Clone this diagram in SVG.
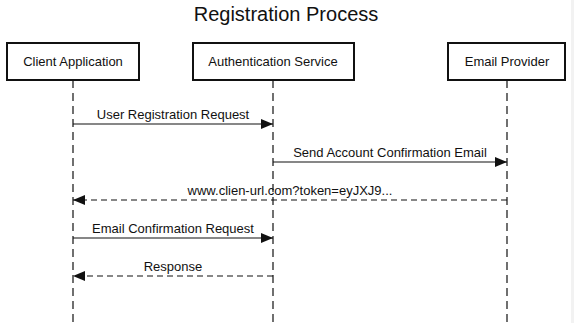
<svg xmlns="http://www.w3.org/2000/svg" width="574" height="323" viewBox="0 0 574 323">
  <style>
    text { font-family: "Liberation Sans", Arial, sans-serif; fill: #111; }
    .title { font-size: 20px; text-anchor: middle; }
    .actor rect { fill: #fff; stroke: #111; stroke-width: 2; }
    .actor text { font-size: 13px; text-anchor: middle; }
    .life { stroke: #111; stroke-width: 1.2; stroke-dasharray: 8 5; fill: none; }
    .msg { stroke: #111; stroke-width: 1.2; fill: none; }
    .ret { stroke-dasharray: 6 4; }
    .lbl { font-size: 13px; text-anchor: middle; }
  </style>
  <defs>
    <marker id="arrow" viewBox="0 0 12 10" refX="12" refY="5" markerWidth="12" markerHeight="10" markerUnits="userSpaceOnUse" orient="auto">
      <path d="M0,0 L12,5 L0,10 Z" fill="#111"/>
    </marker>
  </defs>
  <rect width="574" height="323" fill="#fff"/>
  <rect x="571" y="0" width="3" height="323" fill="#f2f2f2"/>

  <text class="title" x="286" y="21">Registration Process</text>

  <g id="lifelines">
    <line class="life" x1="73" y1="80" x2="73" y2="323"/>
    <line class="life" x1="273" y1="80" x2="273" y2="323"/>
    <line class="life" x1="507" y1="80" x2="507" y2="323"/>
  </g>

  <g id="client" class="actor">
    <rect x="7" y="43" width="132" height="37"/>
    <text x="73" y="66">Client Application</text>
  </g>
  <g id="auth" class="actor">
    <rect x="193" y="43" width="161" height="37"/>
    <text x="273" y="66">Authentication Service</text>
  </g>
  <g id="email" class="actor">
    <rect x="448" y="43" width="117" height="37"/>
    <text x="507" y="66">Email Provider</text>
  </g>

  <g id="connectors">
    <line class="msg" x1="73" y1="124" x2="273" y2="124" marker-end="url(#arrow)"/>
    <text class="lbl" x="173" y="119">User Registration Request</text>

    <line class="msg" x1="273" y1="162" x2="507" y2="162" marker-end="url(#arrow)"/>
    <text class="lbl" x="390" y="157">Send Account Confirmation Email</text>

    <line class="msg ret" x1="507" y1="200" x2="73" y2="200" marker-end="url(#arrow)"/>
    <text class="lbl" x="290" y="195">www.clien-url.com?token=eyJXJ9...</text>

    <line class="msg" x1="73" y1="238" x2="273" y2="238" marker-end="url(#arrow)"/>
    <text class="lbl" x="173" y="233">Email Confirmation Request</text>

    <line class="msg ret" x1="273" y1="276" x2="73" y2="276" marker-end="url(#arrow)"/>
    <text class="lbl" x="173" y="271">Response</text>
  </g>
</svg>
